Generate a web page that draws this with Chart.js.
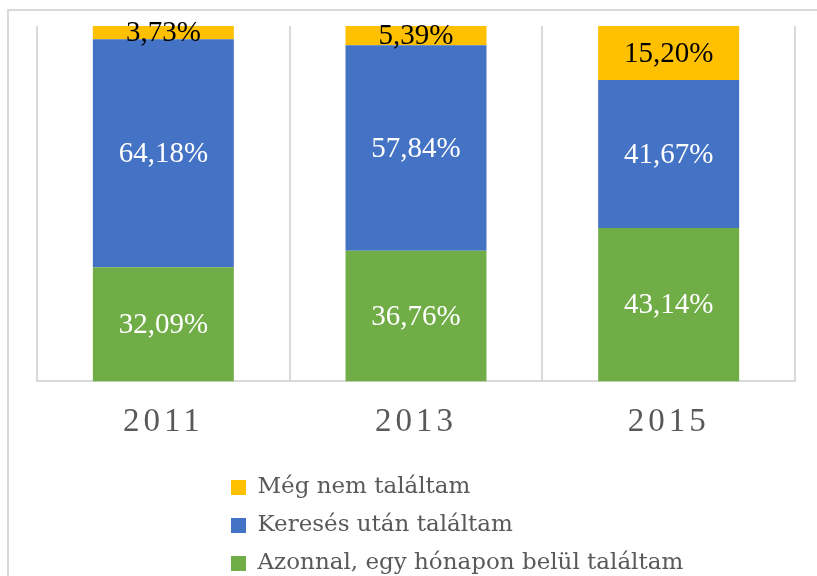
<!DOCTYPE html>
<html><head><meta charset="utf-8">
<script src="https://cdn.jsdelivr.net/npm/chart.js@4"></script>
<style>html,body{margin:0;padding:0;background:#fff;overflow:hidden;} #wrap{width:817px;height:576px;position:relative;}</style>
</head><body><div id="wrap"><canvas id="c" width="817" height="576"></canvas></div>
<script>
const categories = ['2011', '2013', '2015'];
const seriesNames = ['Azonnal, egy hónapon belül találtam', 'Keresés után találtam', 'Még nem találtam'];
const azonnal = [32.09, 36.76, 43.14];
const kereses = [64.18, 57.84, 41.67];
const megNem = [3.73, 5.39, 15.20];
const seriesColors = ['#70AD47', '#4472C4', '#FFC000'];
const labelColors = ['#FFFFFF', '#FFFFFF', '#000000'];

const GRID = '#d9d9d9';

const framePlugin = {
  id: 'frame',
  beforeDraw(chart) {
    const c = chart.ctx;
    c.save();
    c.fillStyle = '#fff';
    c.fillRect(0, 0, chart.width, chart.height);
    c.strokeStyle = GRID;
    c.lineWidth = 2;
    c.beginPath();
    c.moveTo(8, chart.height);
    c.lineTo(8, 10);
    c.lineTo(chart.width, 10);
    c.stroke();
    c.restore();
    const s = chart.scales.x;
    if (s && !s._lsPatched) {
      const orig = s.drawLabels;
      s.drawLabels = function (area) {
        const cx = this.ctx;
        cx.save();
        cx.letterSpacing = '4px';
        orig.call(this, area);
        cx.restore();
      };
      s._lsPatched = true;
    }
  }
};

const barLabelPlugin = {
  id: 'barLabels',
  afterDatasetsDraw(chart) {
    const c = chart.ctx;
    c.save();
    c.font = '29px "Liberation Serif"';
    c.textAlign = 'center';
    c.textBaseline = 'middle';
    chart.data.datasets.forEach((ds, di) => {
      const meta = chart.getDatasetMeta(di);
      meta.data.forEach((el, i) => {
        const v = ds.data[i];
        const txt = v.toFixed(2).replace('.', ',') + '%';
        c.fillStyle = labelColors[di];
        c.fillText(txt, el.x, (el.y + el.base) / 2 + 1);
      });
    });
    c.restore();
  }
};

const legendLayoutPlugin = {
  id: 'legendLayout',
  afterInit(chart) {
    const leg = chart.legend;
    if (leg && !leg._patched) {
      const orig = leg.update;
      leg.update = function (mw, mh, m) { return orig.call(this, Math.min(mw, 480), mh, m); };
      leg._patched = true;
    }
  },
  afterLayout(chart) {
    const leg = chart.legend;
    if (!leg) return;
    const pad = leg.options.labels.padding;
    const h = leg.height;
    leg.left = 231 - pad;
    leg.right = leg.left + 480;
    leg.width = 480;
    leg.top = 461;
    leg.bottom = leg.top + h;
  }
};

new Chart(document.getElementById('c'), {
  type: 'bar',
  data: {
    labels: categories,
    datasets: [
      { label: seriesNames[0], data: azonnal, backgroundColor: seriesColors[0], borderWidth: 0 },
      { label: seriesNames[1], data: kereses, backgroundColor: seriesColors[1], borderWidth: 0 },
      { label: seriesNames[2], data: megNem, backgroundColor: seriesColors[2], borderWidth: 0 }
    ]
  },
  options: {
    responsive: false,
    animation: false,
    devicePixelRatio: 1,
    layout: { padding: { left: 37, right: 22, top: 26, bottom: -11 } },
    datasets: { bar: { categoryPercentage: 1.0, barPercentage: 0.558 } },
    scales: {
      x: {
        stacked: true,
        grid: { display: true, color: GRID, lineWidth: 2, drawTicks: false, offset: true },
        border: { display: true, color: GRID, width: 2 },
        ticks: { color: '#595959', font: { family: '"Liberation Serif"', size: 33 }, padding: 21 }
      },
      y: {
        stacked: true,
        display: false,
        min: 0,
        max: 100
      }
    },
    plugins: {
      legend: {
        position: 'bottom',
        align: 'start',
        reverse: true,
        labels: {
          color: '#595959',
          font: { family: '"DejaVu Serif"', size: 23 },
          boxWidth: 15,
          boxHeight: 15,
          padding: 15
        }
      },
      tooltip: { enabled: false }
    }
  },
  plugins: [framePlugin, barLabelPlugin, legendLayoutPlugin]
});
</script>
</body></html>
